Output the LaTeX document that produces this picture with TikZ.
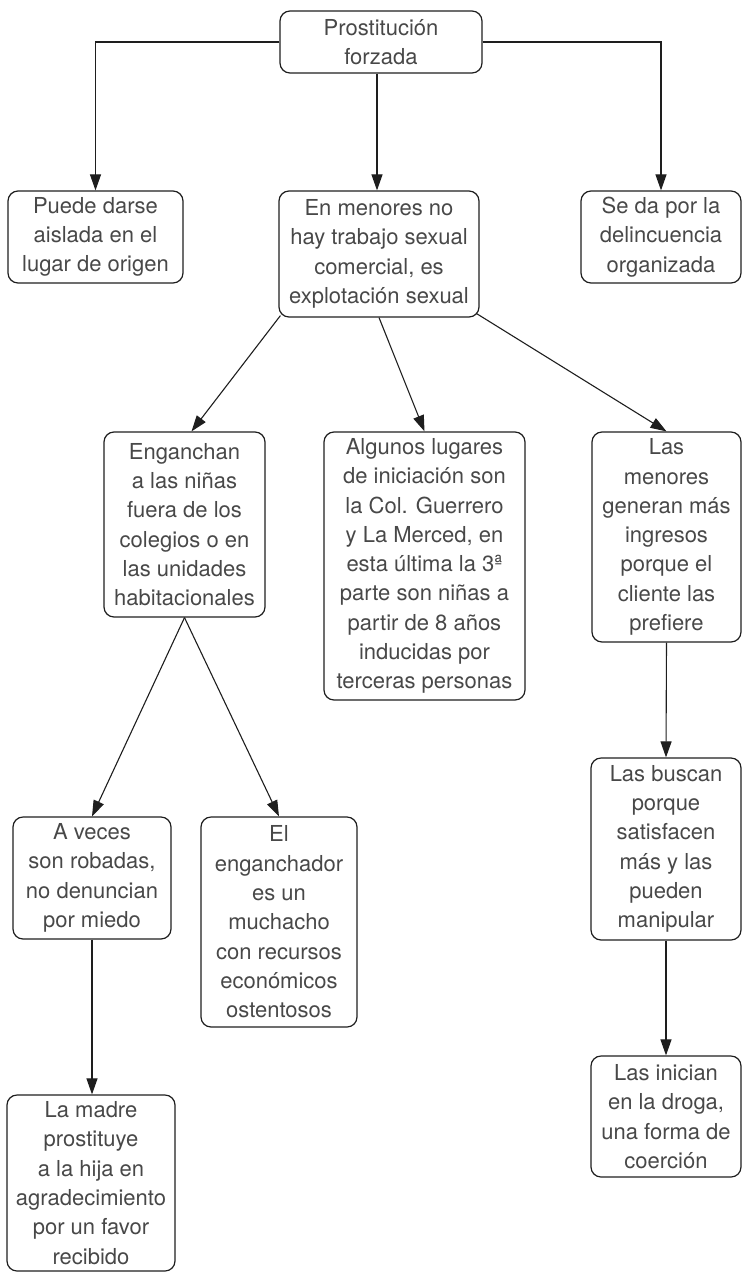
\documentclass[tikz,border=0pt]{standalone}
\usepackage{fontspec}
\setmainfont{TeX Gyre Heros}
\usetikzlibrary{arrows.meta}
\definecolor{ink}{HTML}{1E1E1E}
\definecolor{txt}{HTML}{484848}
\begin{document}
\begin{tikzpicture}[x=1pt,y=-1pt,
  box/.style={draw=ink, line width=1.2pt, rounded corners=10pt, align=center,
    inner sep=0pt, text=txt, font=\fontsize{22}{29.3}\selectfont},
  arr/.style={draw=ink, line width=1.1pt, -{Triangle[length=16pt,width=11pt]}}]
\useasboundingbox (0,0) rectangle (742,1272);

\node[box, minimum width=202pt, minimum height=62pt] (top) at (381,42) {Prostitución\\forzada};
\node[box, minimum width=175pt, minimum height=92pt] (left1) at (95.5,237) {Puede darse\\aislada en el\\lugar de origen};
\node[box, minimum width=200pt, minimum height=126pt] (mid1) at (379,254) {En menores no\\hay trabajo sexual\\comercial, es\\explotación sexual};
\node[box, minimum width=160pt, minimum height=92pt] (right1) at (661,237) {Se da por la\\delincuencia\\organizada};

\node[box, minimum width=161pt, minimum height=185pt] (eng) at (184.5,524.5) {Enganchan\\a las niñas\\fuera de los\\colegios o en\\las unidades\\habitacionales};
\node[box, minimum width=201pt, minimum height=268pt] (alg) at (424.5,566) {Algunos lugares\\de iniciación son\\la Col. Guerrero\\y La Merced, en\\esta última la 3ª\\parte son niñas a\\partir de 8 años\\inducidas por\\terceras personas};
\node[box, minimum width=149pt, minimum height=210pt] (men) at (666.5,537) {Las\\menores\\generan más\\ingresos\\porque el\\cliente las\\prefiere};

\node[box, minimum width=158pt, minimum height=122pt] (aveces) at (92,878) {A veces\\son robadas,\\no denuncian\\por miedo};
\node[box, minimum width=156pt, minimum height=210pt] (el) at (279,922) {El\\enganchador\\es un\\muchacho\\con recursos\\económicos\\ostentosos};
\node[box, minimum width=150pt, minimum height=182pt] (buscan) at (666,849) {Las buscan\\porque\\satisfacen\\más y las\\pueden\\manipular};

\node[box, minimum width=168pt, minimum height=176pt] (madre) at (91,1183) {La madre\\prostituye\\a la hija en\\agradecimiento\\por un favor\\recibido};
\node[box, minimum width=150pt, minimum height=121pt] (inician) at (666,1116.5) {Las inician\\en la droga,\\una forma de\\coerción};

\draw[arr] (top.west) -| (left1.north);
\draw[arr] (top.east) -| (right1.north);
\draw[arr] ([xshift=-4pt]top.south) -- ([xshift=-4pt]top.south |- mid1.north);
\draw[arr] ([shift={(2,-2)}]mid1.south west) -- ([xshift=7pt]eng.north);
\draw[arr] (mid1.south) -- (alg.north);
\draw[arr] ([shift={(-3,-4)}]mid1.south east) -- (men.north);
\draw[arr] (eng.south) -- (aveces.north);
\draw[arr] (eng.south) -- (el.north);
\draw[arr] (aveces.south) -- (aveces.south |- madre.north);
\draw[arr] (men.south) -- (buscan.north);
\draw[arr] (buscan.south) -- (inician.north);
\end{tikzpicture}
\end{document}
